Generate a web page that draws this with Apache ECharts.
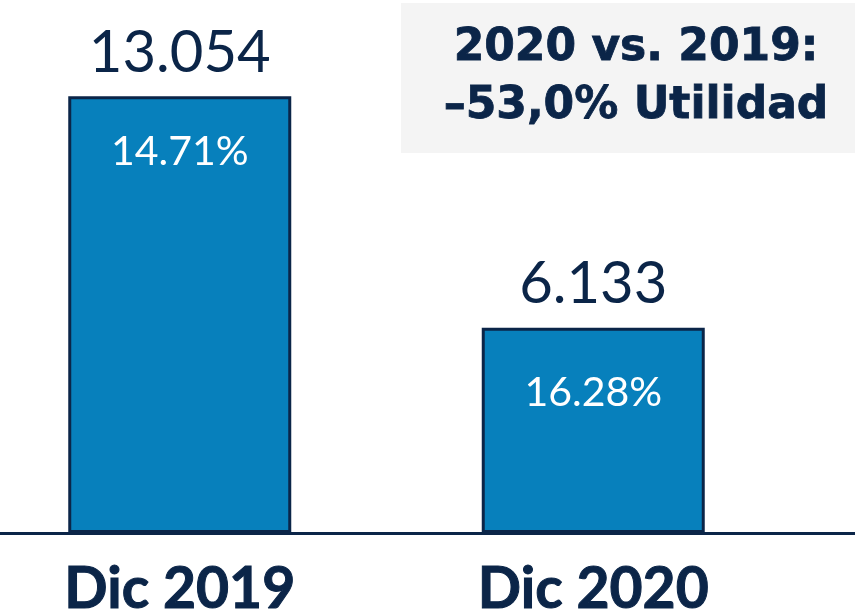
<!DOCTYPE html>
<html>
	<head>
		<meta charset="UTF-8" />
		<title>Utilidad Dic 2019 vs Dic 2020</title>
		<script src="https://cdn.jsdelivr.net/npm/echarts@6/dist/echarts.min.js"></script>
		<style>
			html, body { margin: 0; padding: 0; background: #fff; }
			#pic { width: 855px; height: 612px; }
		</style>
	</head>
	<body>
		<div id="pic"></div>
		<script>
			// datos
			var categories = ['Dic 2019', 'Dic 2020'];
			var utilidad = [13.054, 6.133];
			var valueLabels = ['13.054', '6.133'];
			var margenes = ['14.71%', '16.28%'];
			var nota = ['2020 vs. 2019:', '–53,0% Utilidad'];

			var navy = '#0b2548';
			var azul = '#0780bc';
			var fuente = 'Lato';
			var margenDist = [35, 45]; // separacion de la etiqueta interior

			var myChart = echarts.init(document.getElementById('pic'));
			myChart.setOption({
				backgroundColor: '#ffffff',
				animation: false,
				graphic: [{
					type: 'rect',
					left: 401,
					top: 3,
					shape: { width: 454, height: 150 },
					style: { fill: '#f4f4f4' },
					z: 0
				}, {
					type: 'text',
					x: 636,
					y: 78,
					style: {
						text: nota.join('\n'),
						font: 'bold 44px "DejaVu Sans"',
						fill: navy,
						stroke: navy,
						lineWidth: 0.8,
						lineHeight: 58,
						align: 'center',
						verticalAlign: 'middle'
					},
					z: 1
				}],
				grid: [{
					left: -27,
					right: 55,
					top: 31,
					bottom: 79,
					outerBoundsMode: 'none'
				}, {
					left: 0,
					right: 0,
					top: 31,
					bottom: 79,
					outerBoundsMode: 'none'
				}],
				xAxis: [{
					type: 'category',
					gridIndex: 0,
					data: categories,
					axisLine: { show: false },
					axisTick: { show: false },
					axisLabel: {
						margin: 28,
						fontFamily: fuente,
						fontSize: 57,
						fontWeight: 'bold',
						color: navy,
						textBorderColor: navy,
						textBorderWidth: 1
					}
				}, {
					// linea base a todo lo ancho
					type: 'value',
					gridIndex: 1,
					min: 0,
					max: 1,
					axisLine: { show: true, lineStyle: { color: navy, width: 3 } },
					axisTick: { show: false },
					axisLabel: { show: false },
					splitLine: { show: false }
				}],
				yAxis: [{
					type: 'value',
					gridIndex: 0,
					min: 0,
					max: 15,
					show: false
				}, {
					type: 'value',
					gridIndex: 1,
					min: 0,
					max: 1,
					show: false
				}],
				series: [{
					type: 'bar',
					xAxisIndex: 0,
					yAxisIndex: 0,
					barWidth: 223,
					data: utilidad,
					itemStyle: {
						color: azul,
						borderColor: navy,
						borderWidth: 3
					},
					label: {
						show: true,
						position: 'top',
						distance: 14,
						fontFamily: fuente,
						fontSize: 58,
						color: navy,
						formatter: function(p) { return valueLabels[p.dataIndex]; }
					}
				}, {
					// etiquetas de margen dentro de las barras
					type: 'bar',
					xAxisIndex: 0,
					yAxisIndex: 0,
					barWidth: 223,
					barGap: '-100%',
					data: utilidad.map(function(v, i) {
						return { value: v, label: { distance: margenDist[i] } };
					}),
					itemStyle: { color: 'transparent' },
					silent: true,
					label: {
						show: true,
						position: 'insideTop',
						fontFamily: fuente,
						fontSize: 41,
						color: '#ffffff',
						formatter: function(p) { return margenes[p.dataIndex]; }
					}
				}]
			});
		</script>
	</body>
</html>
